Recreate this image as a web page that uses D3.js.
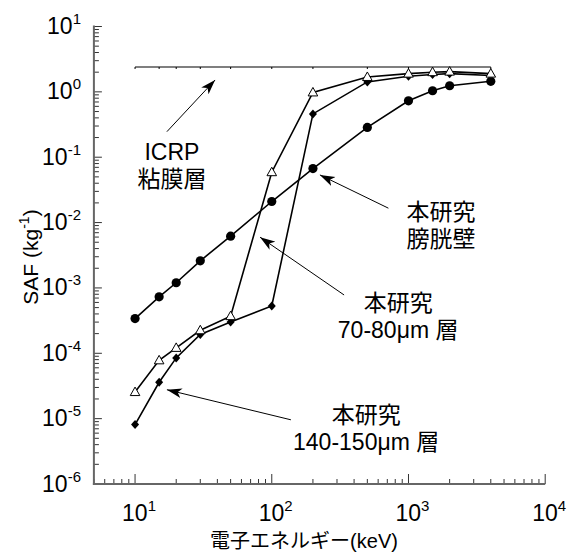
<!DOCTYPE html>
<html>
<head>
<meta charset="utf-8">
<script src="https://cdn.jsdelivr.net/npm/d3@7"></script>
<style>
  html, body { margin: 0; padding: 0; background: #fff; }
  svg { display: block; }
  text { font-family: "Liberation Sans", Arial, "Noto Sans CJK JP", sans-serif; fill: #000; }
  .cjk { font-family: "Liberation Sans", "Noto Sans CJK JP", sans-serif; }
</style>
</head>
<body>
<svg id="chart" width="573" height="559"></svg>
<script>
// ---- data ----
const energies = [10, 15, 20, 30, 50, 100, 200, 500, 1000, 1500, 2000, 4000];
const bladderWall = [3.4e-4, 7.3e-4, 1.2e-3, 2.6e-3, 6.2e-3, 0.021, 0.067, 0.286, 0.73, 1.04, 1.24, 1.45];
const layer7080 = [2.55e-5, 7.8e-5, 1.21e-4, 2.25e-4, 3.7e-4, 0.059, 0.98, 1.69, 1.9, 2.0, 2.04, 1.9];
const layer140150 = [8.1e-6, 3.6e-5, 8.5e-5, 1.94e-4, 3.0e-4, 5.3e-4, 0.46, 1.42, 1.73, 1.84, 1.9, 1.78];
const icrpMucosa = [2.4, 2.4, 2.4, 2.4, 2.4, 2.4, 2.4, 2.4, 2.4, 2.4, 2.4, 2.4];

const xTickExps = [1, 2, 3, 4];
const yTickExps = [1, 0, -1, -2, -3, -4, -5, -6];
const xTitle = "電子エネルギー(keV)";
const yTitle = "SAF (kg";

// annotations (data coordinates)
const annLabels = [
  { lines: ["ICRP", "粘膜層"], x: 18.6, y: 0.091 },
  { lines: ["本研究", "膀胱壁"], x: 1732, y: 0.011 },
  { lines: ["本研究", "70-80μm 層"], x: 840, y: 4.47e-4 },
  { lines: ["本研究", "140-150μm 層"], x: 490, y: 8.65e-6 }
];
const annArrows = [
  { from: [17.1, 0.246], to: [38.5, 1.52] },
  { from: [713, 0.0166], to: [225, 0.0536] },
  { from: [338, 7.8e-4], to: [82.1, 0.00598] },
  { from: [138, 9.6e-6], to: [17.1, 2.77e-5] }
];

// ---- chart ----
const svg = d3.select("#chart");
const x = d3.scaleLog().domain([5, 1e4]).range([93.9, 545.2]);
const y = d3.scaleLog().domain([1e-6, 10]).range([484, 26.5]);
const x0 = x.range()[0], y0 = y.range()[0];

// arrow marker
const defs = svg.append("defs");
defs.append("marker")
  .attr("id", "arrow").attr("markerUnits", "userSpaceOnUse")
  .attr("markerWidth", 16).attr("markerHeight", 12)
  .attr("viewBox", "0 0 16 12").attr("refX", 15).attr("refY", 6)
  .attr("orient", "auto")
  .append("path").attr("d", "M0,1 L15,6 L0,11 L4,6 Z").attr("fill", "#000");

// axes
const axisColor = "#666";
const g = svg.append("g");
// y minor/major ticks
const yTicks = [];
for (let e = -6; e <= 1; e++) {
  yTicks.push({ v: Math.pow(10, e), major: true });
  if (e < 1) for (let m = 2; m <= 9; m++) yTicks.push({ v: m * Math.pow(10, e), major: false });
}
g.selectAll(".yt").data(yTicks).enter().append("line")
  .attr("x1", x0).attr("x2", d => x0 + (d.major ? 8 : 5))
  .attr("y1", d => y(d.v)).attr("y2", d => y(d.v))
  .attr("stroke", "#333").attr("stroke-width", 1);
const xTicks = [];
for (let e = 0; e <= 4; e++) {
  if (e > 0) xTicks.push({ v: Math.pow(10, e), major: true });
  if (e < 4) for (let m = (e === 0 ? 5 : 2); m <= 9; m++) xTicks.push({ v: m * Math.pow(10, e), major: false });
}
g.selectAll(".xt").data(xTicks).enter().append("line")
  .attr("x1", d => x(d.v)).attr("x2", d => x(d.v))
  .attr("y1", y0).attr("y2", d => y0 - (d.major ? 10 : 5))
  .attr("stroke", "#333").attr("stroke-width", 1);
g.append("line").attr("x1", x0).attr("x2", x0).attr("y1", y.range()[1] - 1).attr("y2", y0 + 1)
  .attr("stroke", axisColor).attr("stroke-width", 2);
g.append("line").attr("x1", x0 - 1).attr("x2", x.range()[1]).attr("y1", y0).attr("y2", y0)
  .attr("stroke", axisColor).attr("stroke-width", 2);

// y tick labels
yTickExps.forEach(e => {
  const t = svg.append("text").attr("x", 81).attr("y", y(Math.pow(10, e)) + 7.5)
    .attr("text-anchor", "end").attr("font-size", 23);
  t.append("tspan").text("10");
  t.append("tspan").attr("dy", -10).attr("font-size", 15).text(String(e).replace("-", "-"));
});
// x tick labels
xTickExps.forEach(e => {
  const t = svg.append("text").attr("x", x(Math.pow(10, e)) - 13).attr("y", 521)
    .attr("text-anchor", "start").attr("font-size", 23);
  t.append("tspan").text("10");
  t.append("tspan").attr("dy", -10).attr("font-size", 15).text(String(e));
});

// axis titles
svg.append("text").attr("class", "cjk").attr("x", 304).attr("y", 548)
  .attr("text-anchor", "middle").attr("font-size", 20).text(xTitle);
const yt = svg.append("text").attr("transform", "translate(38,257) rotate(-90)")
  .attr("text-anchor", "middle").attr("font-size", 21);
yt.append("tspan").text(yTitle);
yt.append("tspan").attr("dy", -9).attr("font-size", 14).text("-1");
yt.append("tspan").attr("dy", 9).text(")");

// series
const line = d3.line().x(d => x(d[0])).y(d => y(d[1]));
const pts = arr => energies.map((e, i) => [e, arr[i]]);

// ICRP line
svg.append("path").attr("d", line(pts(icrpMucosa))).attr("fill", "none")
  .attr("stroke", "#000").attr("stroke-width", 1.2);
svg.selectAll(".icrpm").data(pts(icrpMucosa)).enter().append("line")
  .attr("x1", d => x(d[0])).attr("x2", d => x(d[0]))
  .attr("y1", d => y(d[1])).attr("y2", d => y(d[1]) + 2)
  .attr("stroke", "#000").attr("stroke-width", 1);

[bladderWall, layer7080, layer140150].forEach(arr => {
  svg.append("path").attr("d", line(pts(arr))).attr("fill", "none")
    .attr("stroke", "#000").attr("stroke-width", 1.6);
});

// markers
svg.selectAll(".circ").data(pts(bladderWall)).enter().append("circle")
  .attr("cx", d => x(d[0])).attr("cy", d => y(d[1])).attr("r", 4.6).attr("fill", "#000");
svg.selectAll(".dia").data(pts(layer140150)).enter().append("path")
  .attr("transform", d => `translate(${x(d[0])},${y(d[1])})`)
  .attr("d", "M0,-4.5 L4,0 L0,4.5 L-4,0 Z").attr("fill", "#000");
svg.selectAll(".tri").data(pts(layer7080)).enter().append("path")
  .attr("transform", d => `translate(${x(d[0])},${y(d[1])})`)
  .attr("d", "M0,-5 L4.8,3.5 L-4.8,3.5 Z").attr("fill", "#fff")
  .attr("stroke", "#000").attr("stroke-width", 1);

// annotations
annArrows.forEach(a => {
  svg.append("line")
    .attr("x1", x(a.from[0])).attr("y1", y(a.from[1]))
    .attr("x2", x(a.to[0])).attr("y2", y(a.to[1]))
    .attr("stroke", "#000").attr("stroke-width", 1)
    .attr("marker-end", "url(#arrow)");
});
annLabels.forEach(l => {
  const t = svg.append("text").attr("class", "cjk").attr("text-anchor", "middle").attr("font-size", 23);
  l.lines.forEach((s, i) => {
    t.append("tspan").attr("x", x(l.x)).attr("y", y(l.y) + i * 27).text(s);
  });
});
</script>
</body>
</html>
